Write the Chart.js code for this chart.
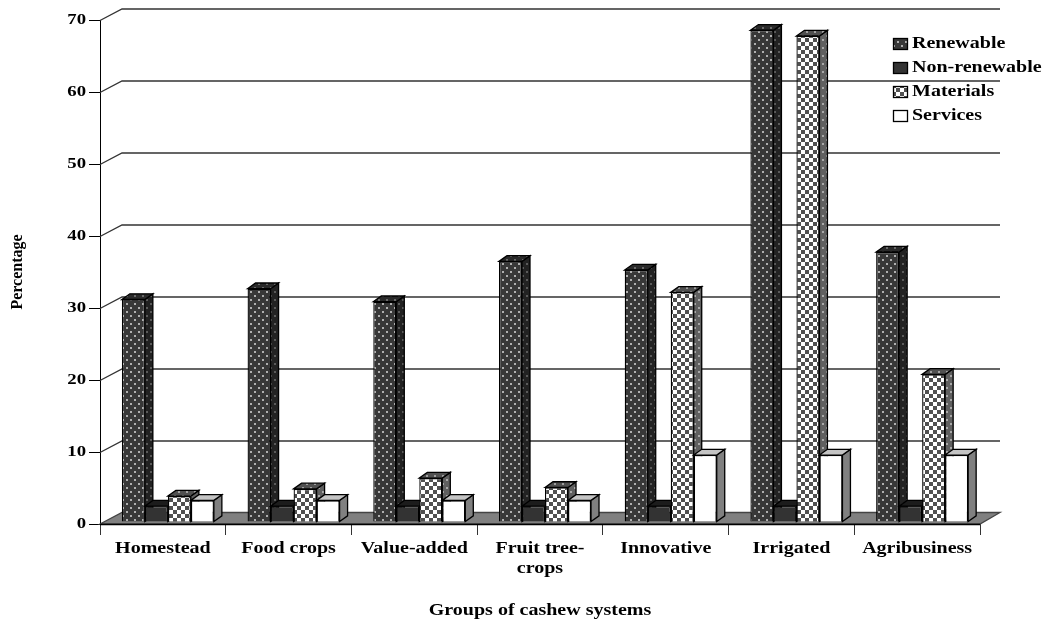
<!DOCTYPE html>
<html>
<head>
<meta charset="utf-8">
<style>
  html, body { margin: 0; background: #fff; }
  canvas { display: block; }
</style>
<script src="https://cdn.jsdelivr.net/npm/chart.js@4/dist/chart.umd.min.js"></script>
</head>
<body>
<canvas id="chart" width="1052" height="622"></canvas>
<script>
const categories = ["Homestead", "Food crops", "Value-added", ["Fruit tree-", "crops"], "Innovative", "Irrigated", "Agribusiness"];
const seriesNames = ["Renewable", "Non-renewable", "Materials", "Services"];
const renewable = [30.9, 32.4, 30.6, 36.2, 35.0, 68.3, 37.5];
const nonRenewable = [2.2, 2.2, 2.2, 2.2, 2.2, 2.2, 2.2];
const materials = [3.6, 4.6, 6.1, 4.8, 31.9, 67.5, 20.5];
const services = [3.0, 3.0, 3.0, 3.0, 9.3, 9.3, 9.3];
const yTicks = [0, 10, 20, 30, 40, 50, 60, 70];

const serif = '"Liberation Serif", serif';
const TEXT_STRETCH = 1.25;

// dotted dark fill
function dotPattern(bg, dot) {
  const c = document.createElement("canvas");
  c.width = 8; c.height = 8;
  const g = c.getContext("2d");
  g.fillStyle = bg;
  g.fillRect(0, 0, 8, 8);
  g.fillStyle = dot;
  g.fillRect(1, 1, 2, 2);
  g.fillRect(5, 5, 2, 2);
  return g.createPattern(c, "repeat");
}

// white/grey checks
function checkPattern(a, b) {
  const c = document.createElement("canvas");
  c.width = 8; c.height = 8;
  const g = c.getContext("2d");
  g.fillStyle = a;
  g.fillRect(0, 0, 8, 8);
  g.fillStyle = b;
  g.fillRect(0, 0, 4, 4);
  g.fillRect(4, 4, 4, 4);
  return g.createPattern(c, "repeat");
}

const fills = [dotPattern("#383838", "#b0b0b0"), "#333333", checkPattern("#ffffff", "#505050"), "#ffffff"];
const sideFills = [dotPattern("#222222", "#5a5a5a"), "#1c1c1c", dotPattern("#606060", "#a8a8a8"), "#808080"];
const topFills = [dotPattern("#2a2a2a", "#6a6a6a"), "#1c1c1c", dotPattern("#505050", "#a0a0a0"), "#c4c4c4"];

const DEPTH_X = 22, DEPTH_Y = 11.5;   // wall/floor offset
const BAR_DX = 8, BAR_DY = 5.7;       // bar side and top
const SHIFT_X = 5, SHIFT_Y = -2;      // bars stand in the middle of the floor

function poly(ctx, pts, fill) {
  ctx.beginPath();
  pts.forEach((p, i) => i ? ctx.lineTo(p[0], p[1]) : ctx.moveTo(p[0], p[1]));
  ctx.closePath();
  ctx.fillStyle = fill;
  ctx.fill();
  ctx.stroke();
}

const canvas = document.getElementById("chart");
const context = canvas.getContext("2d");

// horizontal text is set wide, measured from its anchor
const plainFillText = context.fillText.bind(context);
context.fillText = function (text, x, y, maxWidth) {
  const m = context.getTransform();
  if (m.b !== 0) {
    plainFillText(text, x, y, maxWidth);
    return;
  }
  const p = m.transformPoint(new DOMPoint(x, y));
  context.save();
  context.setTransform(new DOMMatrix().translate(p.x, p.y).scale(TEXT_STRETCH, 1).translate(-p.x, -p.y).multiply(m));
  plainFillText(text, x, y, maxWidth);
  context.restore();
};

const box3d = {
  id: "box3d",
  // wall lines and floor go under the bars
  beforeDatasetsDraw(chart) {
    const { ctx, chartArea: a, scales: { y } } = chart;
    ctx.save();
    ctx.strokeStyle = "#333333";
    ctx.lineWidth = 1.3;
    yTicks.slice(1).forEach(v => {
      const py = Math.round(y.getPixelForValue(v)) + 0.5;
      ctx.beginPath();
      ctx.moveTo(a.left, py);
      ctx.lineTo(a.left + DEPTH_X, py - DEPTH_Y);
      ctx.lineTo(a.right + 20, py - DEPTH_Y);
      ctx.stroke();
    });
    ctx.strokeStyle = "#444444";
    poly(ctx, [[a.left, a.bottom], [a.left + DEPTH_X, a.bottom - DEPTH_Y], [a.right + 20, a.bottom - DEPTH_Y], [a.right, a.bottom]], "#808080");
    ctx.strokeStyle = "#000";
    ctx.beginPath();
    ctx.moveTo(a.left, a.bottom + 0.5);
    ctx.lineTo(a.right, a.bottom + 0.5);
    ctx.stroke();

    // painter's order, left bar first so the next one covers its side
    ctx.translate(SHIFT_X, SHIFT_Y);
    ctx.lineWidth = 1.3;
    chart.data.datasets.forEach((ds, i) => {
      chart.getDatasetMeta(i).data.forEach(bar => {
        const l = bar.x - bar.width / 2, r = bar.x + bar.width / 2;
        const t = bar.y, b = bar.base;
        ctx.strokeStyle = "#000";
        poly(ctx, [[r, t], [r + BAR_DX, t - BAR_DY], [r + BAR_DX, b - BAR_DY], [r, b]], sideFills[i]);
        poly(ctx, [[l, t], [l + BAR_DX, t - BAR_DY], [r + BAR_DX, t - BAR_DY], [r, t]], topFills[i]);
        bar.draw(ctx);
      });
    });
    ctx.restore();
    return false;
  },
  // legend block in the top right corner
  afterDraw(chart) {
    const { ctx } = chart;
    const rows = [44, 68, 92, 116];
    ctx.save();
    ctx.font = "bold 16px " + serif;
    ctx.textBaseline = "middle";
    ctx.textAlign = "left";
    seriesNames.forEach((name, i) => {
      ctx.fillStyle = fills[i];
      ctx.fillRect(893.5, rows[i] - 5.5, 14, 11);
      ctx.strokeStyle = "#000";
      ctx.lineWidth = 1.3;
      ctx.strokeRect(893.5, rows[i] - 5.5, 14, 11);
      ctx.fillStyle = "#000";
      ctx.fillText(name, 912, rows[i]);
    });
    ctx.restore();
  }
};

new Chart(canvas, {
  type: "bar",
  data: {
    labels: categories,
    datasets: [renewable, nonRenewable, materials, services].map((values, i) => ({
      label: seriesNames[i],
      data: values,
      backgroundColor: fills[i],
      borderColor: "#000000",
      borderWidth: 1.3,
      categoryPercentage: 0.732,
      barPercentage: 1
    }))
  },
  options: {
    responsive: false,
    animation: false,
    layout: { padding: { top: 20, right: 72, left: 0, bottom: 0 } },
    plugins: { legend: { display: false }, tooltip: { enabled: false } },
    scales: {
      x: {
        afterFit: s => { s.height = 98; },
        grid: { drawOnChartArea: false, tickLength: 11, color: "#333333" },
        border: { display: false },
        ticks: { color: "#000", font: { family: serif, weight: "bold", size: 16, lineHeight: 1.3 }, padding: 3, maxRotation: 0, autoSkip: false },
        title: { display: true, text: "Groups of cashew systems", color: "#000", font: { family: serif, weight: "bold", size: 16 }, padding: { top: 0, bottom: 2 } }
      },
      y: {
        min: 0,
        max: 70,
        afterFit: s => { s.width = 100; },
        afterBuildTicks: s => { s.ticks = yTicks.map(v => ({ value: v })); },
        grid: { drawOnChartArea: false, tickLength: 11, color: "#000" },
        border: { display: true, color: "#000" },
        ticks: { color: "#000", font: { family: serif, weight: "bold", size: 15 }, padding: 3 },
        title: { display: true, text: "Percentage", color: "#000", font: { family: serif, weight: "bold", size: 16 }, padding: { top: 8, bottom: 0 } }
      }
    }
  },
  plugins: [box3d]
});
</script>
</body>
</html>
